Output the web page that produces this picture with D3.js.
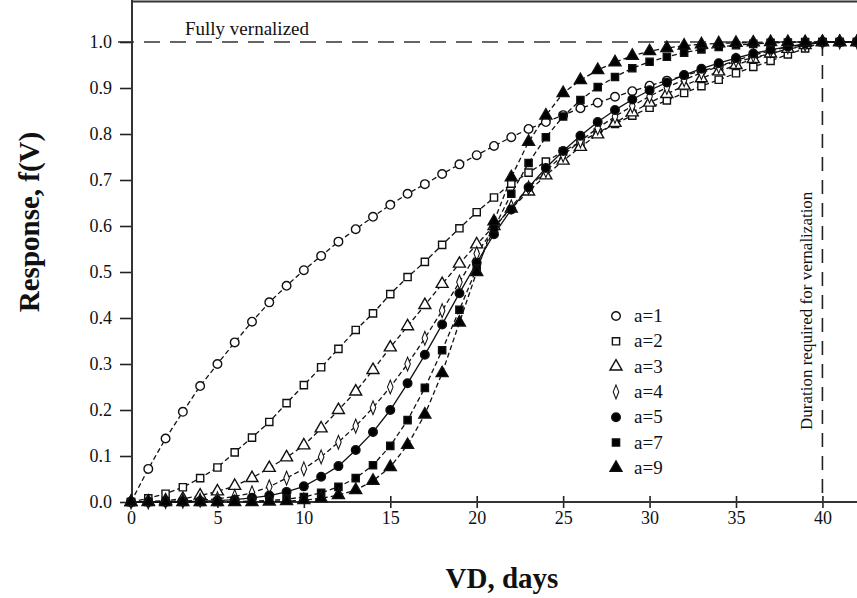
<!DOCTYPE html>
<html>
<head>
<meta charset="utf-8">
<script src="https://cdn.jsdelivr.net/npm/d3@7"></script>
<style>
  body { margin: 0; background: #fff; }
  svg text { font-family: "Liberation Serif", "Times New Roman", serif; fill: #111; }
</style>
</head>
<body>
<div id="chart"></div>
<script>
let width = 857,
    height = 598

// days of vernalization, one point per day
let days = d3.range(0, 43)

let a1 = [0, 0.072, 0.138, 0.196, 0.252, 0.300, 0.347, 0.392, 0.434, 0.470, 0.504, 0.535, 0.566, 0.593, 0.620, 0.646, 0.670, 0.691, 0.713, 0.734, 0.754,
          0.774, 0.793, 0.811, 0.826, 0.841, 0.856, 0.868, 0.881, 0.893, 0.905, 0.916, 0.927, 0.937, 0.947, 0.957, 0.966, 0.975, 0.984, 0.992, 1.0, 1.0, 1.0]
let a2 = [0, 0.008, 0.018, 0.032, 0.052, 0.075, 0.108, 0.140, 0.174, 0.215, 0.254, 0.293, 0.333, 0.374, 0.410, 0.452, 0.489, 0.522, 0.559, 0.595, 0.630,
          0.662, 0.692, 0.716, 0.740, 0.762, 0.783, 0.803, 0.822, 0.840, 0.857, 0.873, 0.889, 0.904, 0.918, 0.932, 0.946, 0.959, 0.973, 0.986, 1.0, 1.0, 1.0]
let a3 = [0, 0.001, 0.003, 0.007, 0.014, 0.023, 0.035, 0.052, 0.074, 0.097, 0.123, 0.160, 0.200, 0.240, 0.287, 0.336, 0.382, 0.428, 0.474, 0.518, 0.560,
          0.600, 0.638, 0.675, 0.710, 0.742, 0.772, 0.799, 0.824, 0.847, 0.868, 0.887, 0.905, 0.921, 0.936, 0.950, 0.963, 0.975, 0.985, 0.993, 1.0, 1.0, 1.0]
let a4 = [0, 0, 0.001, 0.002, 0.004, 0.007, 0.012, 0.020, 0.033, 0.052, 0.072, 0.098, 0.130, 0.165, 0.205, 0.250, 0.300, 0.356, 0.416, 0.478, 0.540,
          0.595, 0.642, 0.683, 0.720, 0.754, 0.785, 0.813, 0.838, 0.861, 0.882, 0.901, 0.918, 0.933, 0.947, 0.960, 0.971, 0.981, 0.989, 0.995, 1.0, 1.0, 1.0]
let a5 = [0, 0, 0, 0.001, 0.002, 0.003, 0.005, 0.009, 0.014, 0.022, 0.034, 0.055, 0.078, 0.113, 0.152, 0.200, 0.258, 0.320, 0.386, 0.454, 0.520,
          0.582, 0.636, 0.684, 0.726, 0.763, 0.796, 0.826, 0.852, 0.875, 0.895, 0.912, 0.928, 0.942, 0.954, 0.965, 0.975, 0.983, 0.990, 0.996, 1.0, 1.0, 1.0]
let a7 = [0, 0, 0, 0, 0, 0, 0.001, 0.002, 0.003, 0.006, 0.011, 0.020, 0.033, 0.052, 0.080, 0.122, 0.178, 0.248, 0.330, 0.418, 0.508,
          0.595, 0.670, 0.737, 0.793, 0.838, 0.874, 0.902, 0.924, 0.943, 0.957, 0.968, 0.977, 0.984, 0.989, 0.993, 0.996, 0.998, 0.999, 1.0, 1.0, 1.0, 1.0]
let a9 = [0, 0, 0, 0, 0, 0, 0, 0, 0.001, 0.002, 0.004, 0.008, 0.015, 0.026, 0.046, 0.076, 0.124, 0.190, 0.280, 0.390, 0.500,
          0.610, 0.706, 0.783, 0.840, 0.889, 0.917, 0.939, 0.956, 0.970, 0.980, 0.987, 0.992, 0.995, 0.997, 0.998, 0.999, 1.0, 1.0, 1.0, 1.0, 1.0, 1.0]

let seriesNames = ['a=1', 'a=2', 'a=3', 'a=4', 'a=5', 'a=7', 'a=9']
let seriesValues = [a1, a2, a3, a4, a5, a7, a9]

let xTicks = [0, 5, 10, 15, 20, 25, 30, 35, 40]
let yTicks = [0, 0.1, 0.2, 0.3, 0.4, 0.5, 0.6, 0.7, 0.8, 0.9, 1.0]
let vSat = 40   // duration required for vernalization

// marker style for each series
let shapes = [
  {type: d3.symbolCircle, size: 58, fill: 'white'},
  {type: d3.symbolSquare, size: 52, fill: 'white'},
  {type: d3.symbolTriangle, size: 62, fill: 'white'},
  {type: d3.symbolDiamond, size: 55, fill: 'white', sx: 0.7},
  {type: d3.symbolCircle, size: 58, fill: 'black'},
  {type: d3.symbolSquare, size: 52, fill: 'black'},
  {type: d3.symbolTriangle, size: 62, fill: 'black'}
]

let x = d3.scaleLinear().domain([0, 42]).range([131, 857])
let y = d3.scaleLinear().domain([0, 1]).range([502, 42])

let svg = d3.select('#chart')
  .append('svg')
    .attr('width', width)
    .attr('height', height)

// frame top line
svg.append('line')
  .attr('x1', 132).attr('x2', width)
  .attr('y1', 1.5).attr('y2', 1.5)
  .attr('stroke', '#333').attr('stroke-width', 2)

// Fully vernalized reference line
svg.append('line')
  .attr('x1', 118).attr('x2', width)
  .attr('y1', y(1)).attr('y2', y(1))
  .attr('stroke', '#333').attr('stroke-width', 1.6)
  .attr('stroke-dasharray', '16,10')

svg.append('text')
  .attr('x', 185).attr('y', 35)
  .style('font-size', '19px')
  .text('Fully vernalized')

// vertical line at saturation
svg.append('line')
  .attr('x1', x(vSat)).attr('x2', x(vSat))
  .attr('y1', y(1)).attr('y2', y(0))
  .attr('stroke', '#222').attr('stroke-width', 1.6)
  .attr('stroke-dasharray', '14,9')

svg.append('text')
  .attr('transform', `translate(${x(vSat) - 10},430) rotate(-90)`)
  .style('font-size', '17px')
  .text('Duration required for vernalization')

// axes
let yAxis = d3.axisLeft(y).tickValues(yTicks).tickFormat(d3.format('.1f')).tickSize(12).tickPadding(8)
let xAxis = d3.axisBottom(x).tickValues(xTicks).tickSize(6).tickPadding(3)

let gy = svg.append('g').attr('transform', 'translate(132,0)').call(yAxis)
gy.select('.domain').remove()
gy.append('line').attr('x1', 0).attr('x2', 0).attr('y1', 0).attr('y2', y(0))
  .attr('stroke', '#333').attr('stroke-width', 2)

let gx = svg.append('g').attr('transform', `translate(0,${y(0)})`).call(xAxis)
gx.select('.domain').remove()
gx.append('line').attr('x1', 132).attr('x2', width).attr('y1', 0).attr('y2', 0)
  .attr('stroke', '#333').attr('stroke-width', 2)
gx.selectAll('.tick line').attr('y1', -6)

svg.selectAll('.tick line').attr('stroke', '#222').attr('stroke-width', 1.6)
svg.selectAll('.tick text')
  .style('font-family', '"Liberation Serif", serif')
  .style('font-size', '18px')
  .attr('fill', '#111')

// curves
let line = d3.line()
  .x(function(d) { return x(d[0]) })
  .y(function(d) { return y(d[1]) })

seriesValues.forEach(function(vals, i) {
  let pts = days.map(function(d, j) { return [d, vals[j]] })
  svg.append('path')
    .datum(pts)
    .attr('d', line)
    .attr('fill', 'none')
    .attr('stroke', '#111')
    .attr('stroke-width', 1.3)
    .attr('stroke-dasharray', seriesNames[i] == 'a=5' ? null : '5,3')
})

function drawMarker(g, s, cx, cy) {
  g.append('path')
    .attr('d', d3.symbol().type(s.type).size(s.size)())
    .attr('transform', `translate(${cx},${cy}) scale(${s.sx || 1},1)`)
    .attr('fill', s.fill)
    .attr('stroke', '#111')
    .attr('stroke-width', 1.4)
}

let marks = svg.append('g')
seriesValues.forEach(function(vals, i) {
  days.forEach(function(d, j) {
    drawMarker(marks, shapes[i], x(d), y(vals[j]))
  })
})

// legend
let legend = svg.append('g')
seriesNames.forEach(function(name, i) {
  let ly = 316 + i * 25.3
  drawMarker(legend, shapes[i], 616, ly)
  legend.append('text')
    .attr('x', 634).attr('y', ly + 6)
    .style('font-family', '"Liberation Serif", serif')
    .style('font-size', '19px')
    .text(name)
})

// axis titles
svg.append('text')
  .attr('transform', 'translate(39,222) rotate(-90)')
  .attr('text-anchor', 'middle')
  .style('font-size', '29px')
  .style('font-weight', 'bold')
  .text('Response, f(V)')

svg.append('text')
  .attr('x', 502).attr('y', 588)
  .attr('text-anchor', 'middle')
  .style('font-size', '29px')
  .style('font-weight', 'bold')
  .text('VD, days')
</script>
</body>
</html>
